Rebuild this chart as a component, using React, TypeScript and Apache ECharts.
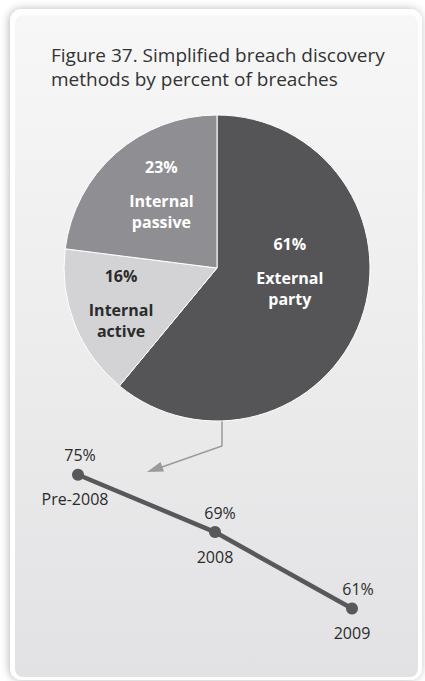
import React, { useEffect, useRef } from "react";
import * as echarts from "echarts";

const titleLines = [
  "Figure 37. Simplified breach discovery",
  "methods by percent of breaches",
];
const pieNames = ["External party", "Internal active", "Internal passive"];
const pieValues = [61, 16, 23];
const pieColors = ["#555558", "#d3d3d5", "#8f8f93"];
const pieLabelColors = ["#ffffff", "#2b2b2b", "#ffffff"];
const trendCategories = ["Pre-2008", "2008", "2009"];
const trendValues = [75, 69, 61];

const FONT = "Open Sans";

export default function App() {
  const ref = useRef<HTMLDivElement>(null);
  useEffect(() => {
    if (!ref.current) return;
    const chart = echarts.init(ref.current, undefined, { renderer: "svg" });

    const pieLabelShift = [
      { dx: -2, dy: -30 },
      { dx: -22, dy: 0 },
      { dx: -3, dy: -20 },
    ];
    const trendLabelShift = [
      { dx: 2, dy: 0 },
      { dx: 5, dy: 1 },
      { dx: 6, dy: 1 },
    ];
    const catLabelShift = [
      { dx: -3, dy: 0 },
      { dx: 0, dy: 0 },
      { dx: 0, dy: 0 },
    ];

    const option: any = {
      animation: false,
      backgroundColor: "#ffffff",
      textStyle: { fontFamily: FONT },
      title: {
        text: titleLines.join("\n"),
        left: 46,
        top: 38,
        textStyle: {
          fontFamily: FONT,
          fontSize: 19,
          fontWeight: "normal",
          color: "#333333",
          lineHeight: 24,
        },
      },
      graphic: [
        {
          type: "rect",
          z: -20,
          shape: { x: 10, y: 9, width: 412, height: 671, r: 12 },
          style: {
            fill: "#ffffff",
            shadowBlur: 8,
            shadowColor: "rgba(0,0,0,0.28)",
            shadowOffsetX: -1,
            shadowOffsetY: 0,
          },
          silent: true,
        },
        {
          type: "rect",
          z: -19,
          shape: { x: 15, y: 15, width: 403, height: 662, r: 8 },
          style: {
            fill: new echarts.graphic.LinearGradient(0, 0, 0, 1, [
              { offset: 0, color: "#f7f7f7" },
              { offset: 1, color: "#e2e2e4" },
            ]),
          },
          silent: true,
        },
        {
          type: "polyline",
          z: 1,
          shape: { points: [[222, 418], [222, 446], [162, 467]] },
          style: { stroke: "#9a9a9c", lineWidth: 1.5, fill: null },
          silent: true,
        },
        {
          type: "polygon",
          z: 1,
          shape: { points: [[147, 472], [160.5, 462], [164, 471.5]] },
          style: { fill: "#9a9a9c" },
          silent: true,
        },
      ],
      grid: { left: 78, right: 73, top: 427, bottom: 15.25, containLabel: false },
      xAxis: {
        type: "category",
        data: trendCategories,
        boundaryGap: false,
        show: false,
      },
      yAxis: { type: "value", min: 55, max: 80, show: false },
      series: [
        {
          type: "pie",
          center: [217, 268],
          radius: [0, 153],
          startAngle: 90,
          clockwise: true,
          silent: true,
          itemStyle: { borderColor: "#ffffff", borderWidth: 1 },
          labelLine: { show: false },
          label: {
            show: true,
            position: "inside",
            formatter: (p: any) => {
              const words = String(p.name).split(" ");
              return `{p|${p.value}%}\n{n|${words[0]}}\n{n|${words.slice(1).join(" ")}}`;
            },
            rich: {
              p: { fontFamily: FONT, fontSize: 16, fontWeight: "bold", lineHeight: 47 },
              n: { fontFamily: FONT, fontSize: 16, fontWeight: "bold", lineHeight: 21 },
            },
          },
          labelLayout: (params: any) => pieLabelShift[params.dataIndex],
          data: pieNames.map((name, i) => ({
            name,
            value: pieValues[i],
            itemStyle: { color: pieColors[i] },
            label: {
              color: pieLabelColors[i],
              rich: {
                p: { color: pieLabelColors[i] },
                n: { color: pieLabelColors[i] },
              },
            },
          })),
        },
        {
          type: "line",
          data: trendValues,
          symbol: "circle",
          symbolSize: 12,
          silent: true,
          lineStyle: { color: "#58585a", width: 4.5 },
          itemStyle: { color: "#58585a" },
          label: {
            show: true,
            position: "top",
            distance: 6,
            formatter: (p: any) => `${p.value}%`,
            fontFamily: FONT,
            fontSize: 16,
            color: "#2b2b2b",
          },
          labelLayout: (params: any) => trendLabelShift[params.dataIndex],
          z: 3,
        },
        {
          type: "scatter",
          data: trendValues,
          symbolSize: 1,
          silent: true,
          itemStyle: { color: "#58585a", opacity: 1 },
          label: {
            show: true,
            position: "bottom",
            distance: 16,
            formatter: (p: any) => p.name,
            fontFamily: FONT,
            fontSize: 16,
            color: "#2b2b2b",
            opacity: 1,
          },
          labelLayout: (params: any) => catLabelShift[params.dataIndex],
          z: 2,
        },
      ],
    };
    chart.setOption(option);
    return () => chart.dispose();
  }, []);

  return (
    <div
      ref={ref}
      style={{ position: "fixed", left: 0, top: 0, width: 425, height: 681 }}
    />
  );
}
